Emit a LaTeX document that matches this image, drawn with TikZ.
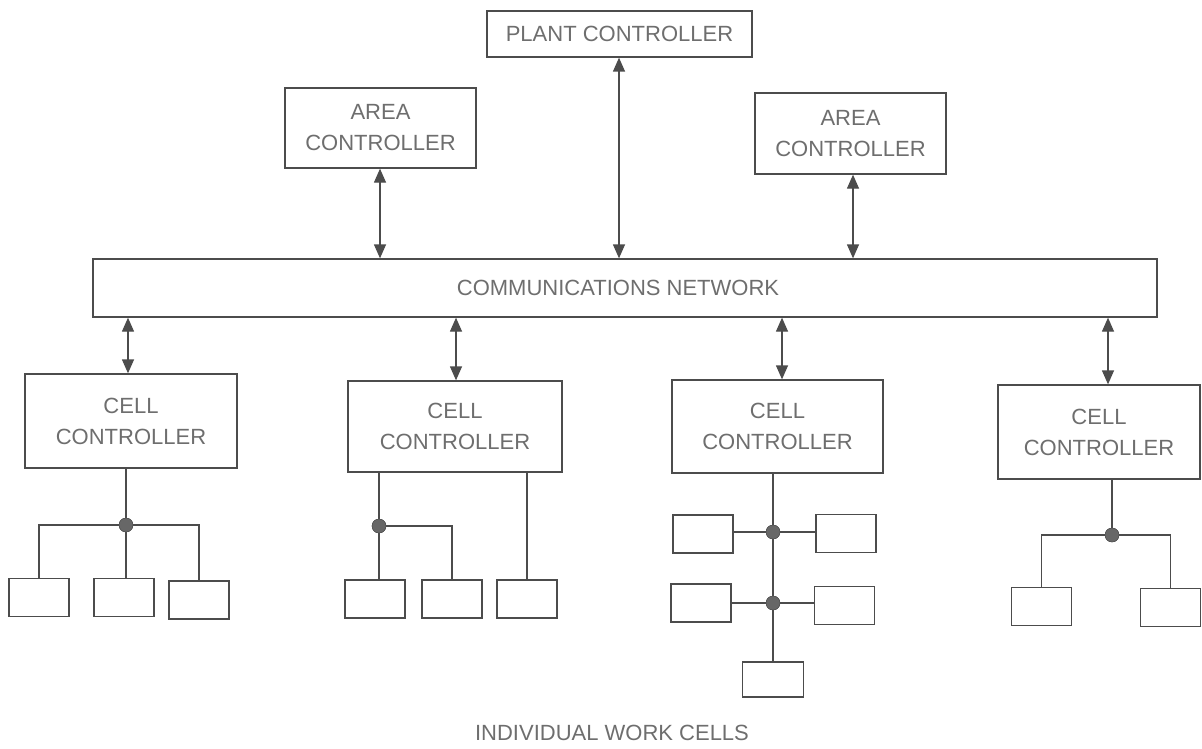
\documentclass[tikz,border=0pt]{standalone}
\usepackage{fontspec}
\setmainfont{Liberation Sans}
\usetikzlibrary{arrows.meta}
\definecolor{ln}{HTML}{4C4C4C}
\definecolor{tx}{HTML}{6E6E6E}
\tikzset{
  box/.style={draw=ln, line width=1.3pt, fill=white, text=tx, align=center, inner sep=0pt,
    font=\fontsize{22}{31}\selectfont},
  leaf/.style={draw=ln, line width=1.3pt, minimum width=60pt, minimum height=38pt, inner sep=0pt},
  link/.style={draw=ln, line width=1.3pt},
  biarrow/.style={draw=ln, line width=1.3pt, {Triangle[length=14pt,width=12pt]}-{Triangle[length=14pt,width=12pt]}},
  dot/.style={circle, fill=ln!85, draw=ln, minimum size=14pt, inner sep=0pt},
  label/.style={text=tx, font=\fontsize{22}{26}\selectfont}
}
\begin{document}
\begin{tikzpicture}[x=1pt,y=-1pt]
\useasboundingbox (0,0) rectangle (1202,749);
% upper level
\node[box, minimum width=265pt, minimum height=46pt] (plant) at (619.5,34) {PLANT CONTROLLER};
\node[box, minimum width=191pt, minimum height=80pt] (areaL) at (380.5,128) {AREA\\CONTROLLER};
\node[box, minimum width=191pt, minimum height=81pt] (areaR) at (850.5,133.5) {AREA\\CONTROLLER};
\node[box, minimum width=1064pt, minimum height=58pt] (comm) at (625,288) {\hspace*{-14pt}COMMUNICATIONS NETWORK};
% cell controllers
\node[box, minimum width=212pt, minimum height=94pt] (cell1) at (131,421) {CELL\\CONTROLLER};
\node[box, minimum width=214pt, minimum height=91pt] (cell2) at (455,426.5) {CELL\\CONTROLLER};
\node[box, minimum width=211pt, minimum height=93pt] (cell3) at (777.5,426.5) {CELL\\CONTROLLER};
\node[box, minimum width=202pt, minimum height=94pt] (cell4) at (1099,432) {CELL\\CONTROLLER};
% arrows upper
\coordinate (pa) at (619,0);
\coordinate (aa) at (380,0);
\coordinate (ra) at (853,0);
\draw[biarrow] (pa |- plant.south) -- (pa |- comm.north);
\draw[biarrow] (aa |- areaL.south) -- (aa |- comm.north);
\draw[biarrow] (ra |- areaR.south) -- (ra |- comm.north);
% arrows lower
\coordinate (c1a) at (128,0);
\coordinate (c2a) at (456,0);
\coordinate (c3a) at (782,0);
\coordinate (c4a) at (1108,0);
\draw[biarrow] (c1a |- comm.south) -- (c1a |- cell1.north);
\draw[biarrow] (c2a |- comm.south) -- (c2a |- cell2.north);
\draw[biarrow] (c3a |- comm.south) -- (c3a |- cell3.north);
\draw[biarrow] (c4a |- comm.south) -- (c4a |- cell4.north);
% cell 1 group
\node[leaf] (w1a) at (39,597.5) {};
\node[leaf] (w1b) at (124,597.5) {};
\node[leaf] (w1c) at (199,600) {};
\node[dot] (j1) at (126,525) {};
\draw[link] (j1 |- cell1.south) -- (j1);
\draw[link] (j1) -- (j1 |- w1b.north);
\draw[link] (j1) -| (w1a.north);
\draw[link] (j1) -| (w1c.north);
\node[dot] at (j1) {};
% cell 2 group
\node[leaf] (w2a) at (375,599) {};
\node[leaf] (w2b) at (452,599) {};
\node[leaf] (w2c) at (527,599) {};
\node[dot] (j2) at (379,526) {};
\draw[link] (j2 |- cell2.south) -- (j2);
\draw[link] (j2) -- (j2 |- w2a.north);
\draw[link] (j2) -| (w2b.north);
\draw[link] (w2c.north |- cell2.south) -- (w2c.north);
\node[dot] at (j2) {};
% cell 3 group
\node[leaf] (w3a) at (703,534) {};
\node[leaf] (w3b) at (846,533.5) {};
\node[leaf] (w3c) at (701,603) {};
\node[leaf] (w3d) at (844.5,605.5) {};
\node[leaf, minimum width=61pt, minimum height=35pt] (w3e) at (773,679.5) {};
\node[dot] (j3a) at (773,532) {};
\node[dot] (j3b) at (773,603) {};
\draw[link] (j3a |- cell3.south) -- (j3a) -- (j3b) -- (w3e.north);
\draw[link] (w3a.east |- j3a) -- (j3a) -- (w3b.west |- j3a);
\draw[link] (w3c.east |- j3b) -- (j3b) -- (w3d.west |- j3b);
\node[dot] at (j3a) {};
\node[dot] at (j3b) {};
% cell 4 group
\node[leaf] (w4a) at (1041.5,606.5) {};
\node[leaf] (w4b) at (1170.5,607.5) {};
\node[dot] (j4) at (1112,535) {};
\draw[link] (j4 |- cell4.south) -- (j4);
\draw[link] (j4) -| (w4a.north);
\draw[link] (j4) -| (w4b.north);
\node[dot] at (j4) {};
% caption
\node[label] (cap) at (612,733) {INDIVIDUAL WORK CELLS};
\end{tikzpicture}
\end{document}
